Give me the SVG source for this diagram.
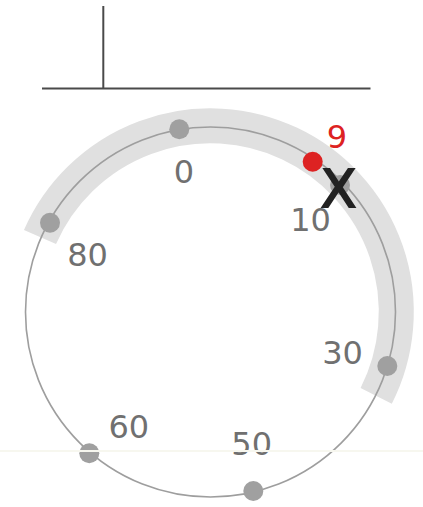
<svg xmlns="http://www.w3.org/2000/svg" width="423" height="507" viewBox="0 0 423 507">
<style>
.axis{stroke:#4a4a4a;stroke-width:2;fill:none}
.ring{stroke:#9e9e9e;stroke-width:1.6;fill:none}
.band{stroke:#e0e0e0;stroke-width:35;fill:none;stroke-linecap:butt}
.dot{fill:#a0a0a0}
.lbl{font-family:"DejaVu Sans",sans-serif;font-size:32px;fill:#707070;text-anchor:middle}
</style>
<rect width="423" height="507" fill="#ffffff"/>
<g id="axes">
<line class="axis" x1="42" y1="88.5" x2="370.5" y2="88.5"/>
<line class="axis" x1="103.3" y1="6" x2="103.3" y2="88.5"/>
</g>
<g id="connectors">
<path class="band" d="M40,237 A186,186 0 1 1 376.2,395.9"/>
<circle class="ring" cx="210.5" cy="312" r="185"/>
</g>
<g id="n0"><circle class="dot" cx="179.3" cy="129.3" r="10"/><text class="lbl" x="184" y="183">0</text></g>
<g id="n10"><circle class="dot" cx="340" cy="185" r="10"/><text class="lbl" x="310.5" y="231">10</text></g>
<g id="n30"><circle class="dot" cx="387.3" cy="366" r="10"/><text class="lbl" x="342.5" y="363.5">30</text></g>
<g id="n50"><circle class="dot" cx="253.3" cy="491" r="10"/><text class="lbl" x="251.7" y="454.5">50</text></g>
<g id="n60"><circle class="dot" cx="89.3" cy="453.3" r="10"/><text class="lbl" x="128.8" y="437.5">60</text></g>
<g id="n80"><circle class="dot" cx="50" cy="222.7" r="10"/><text class="lbl" x="87.5" y="266">80</text></g>
<g id="n9"><circle cx="312.7" cy="161.7" r="10" fill="#dd2222"/><text class="lbl" x="337" y="147.5" style="fill:#dd2222">9</text></g>
<g id="marker"><text x="338.5" y="206.5" font-family="DejaVu Sans, sans-serif" font-size="52" fill="#222222" stroke="#222222" stroke-width="1.8" stroke-linejoin="miter" text-anchor="middle">X</text></g>
<line x1="0" y1="451" x2="423" y2="451" stroke="#f7f7ef" stroke-width="2"/>
</svg>
